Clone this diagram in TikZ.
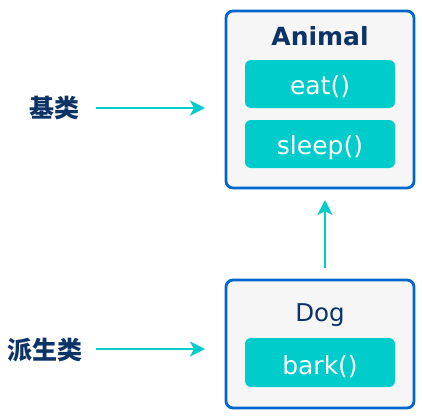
\documentclass[tikz,border=0pt]{standalone}
\usepackage{fontspec}
\setmainfont{DejaVu Sans}
\newfontfamily\cjk{Noto Sans CJK SC}
\usetikzlibrary{arrows.meta}
\definecolor{boxblue}{HTML}{0066CC}
\definecolor{boxfill}{HTML}{F6F6F6}
\definecolor{teal}{HTML}{00CCCC}
\definecolor{navy}{HTML}{0B3366}
\tikzset{
  classbox/.style={draw=boxblue, fill=boxfill, line width=2.8pt, rounded corners=7pt, minimum width=188pt, inner sep=0pt},
  methodbox/.style={fill=teal, rounded corners=6pt, minimum width=150pt, minimum height=48pt, inner sep=0pt},
  methodtext/.style={text=white, font=\fontsize{25}{30}\selectfont, anchor=base, inner sep=0pt},
  titletext/.style={text=navy, anchor=base, inner sep=0pt},
  sidelabel/.style={text=navy, font=\cjk\bfseries\fontsize{25}{30}\selectfont, inner sep=0pt},
  flow/.style={draw=teal, line width=2.8pt, -{Stealth[length=15pt, width=15pt, inset=4pt]}}
}
\begin{document}
\begin{tikzpicture}[x=1pt,y=-1pt]
\useasboundingbox (0,0) rectangle (422,415);
% Animal
\node[classbox, minimum height=177pt] (animal) at (320,99.5) {};
\node[titletext, font=\bfseries\fontsize{25}{30}\selectfont] (animalt) at (320,45) {Animal};
\node[methodbox] (eatb) at (320,84) {};
\node[methodtext] (eatt) at (320,94.5) {eat()};
\node[methodbox] (sleepb) at (320,144) {};
\node[methodtext] (sleept) at (320,154.5) {sleep()};
% Dog
\node[classbox, minimum height=128pt] (dog) at (320,344) {};
\node[titletext, font=\fontsize{24.5}{30}\selectfont] (dogt) at (320,321.5) {Dog};
\node[methodbox, minimum height=49pt] (barkb) at (320,362.5) {};
\node[methodtext] (barkt) at (320,374) {bark()};
% labels
\node[sidelabel] (base) at (54,108) {基类};
\node[sidelabel] (derived) at (45,350) {派生类};
\coordinate (a1s) at (96,108);
\coordinate (a1e) at (205,108);
\coordinate (a2s) at (96,349);
\coordinate (a2e) at (205,349);
\coordinate (a3s) at (325,268);
\coordinate (a3e) at (325,200);
\draw[flow] (a1s) -- (a1e);
\draw[flow] (a2s) -- (a2e);
\draw[flow] (a3s) -- (a3e);
\end{tikzpicture}
\end{document}
